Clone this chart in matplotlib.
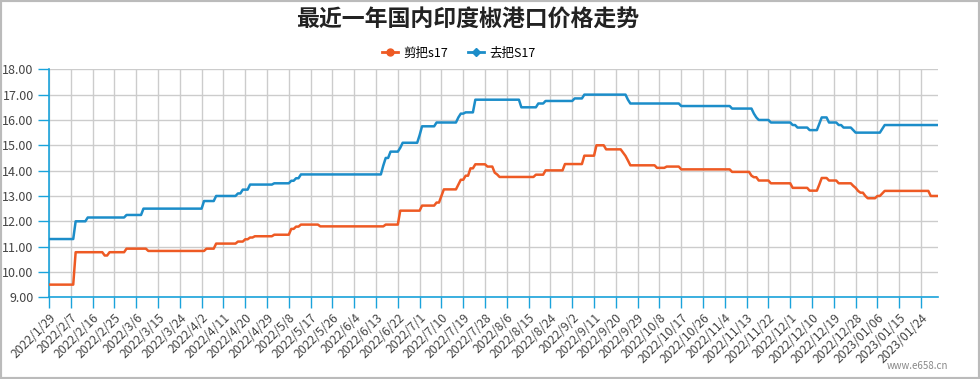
import numpy as np
import matplotlib
matplotlib.use("Agg")
import matplotlib.pyplot as plt
from matplotlib.patches import Rectangle
from matplotlib.lines import Line2D

plt.rcParams['font.family'] = ['Noto Sans CJK SC', 'DejaVu Sans']

title = "最近一年国内印度椒港口价格走势"
series_names = ["剪把s17", "去把S17"]
n_days = 368  # daily points 2022/1/29 .. 2023/1/31

tick_labels = ["2022/1/29", "2022/2/7", "2022/2/16", "2022/2/25", "2022/3/6", "2022/3/15",
               "2022/3/24", "2022/4/2", "2022/4/11", "2022/4/20", "2022/4/29", "2022/5/8",
               "2022/5/17", "2022/5/26", "2022/6/4", "2022/6/13", "2022/6/22", "2022/7/1",
               "2022/7/10", "2022/7/19", "2022/7/28", "2022/8/6", "2022/8/15", "2022/8/24",
               "2022/9/2", "2022/9/11", "2022/9/20", "2022/9/29", "2022/10/8", "2022/10/17",
               "2022/10/26", "2022/11/4", "2022/11/13", "2022/11/22", "2022/12/1", "2022/12/10",
               "2022/12/19", "2022/12/28", "2023/01/06", "2023/01/15", "2023/01/24"]

# step data: day index where a price level starts, and the level
orange_start = [0, 11, 23, 25, 32, 41, 65, 69, 78, 81, 83, 85, 93, 100, 102, 104, 112,
                139, 145, 154, 160, 162, 163, 169, 170, 172, 174, 176, 181, 184, 185, 186,
                201, 205, 213, 221, 226, 230, 237, 238, 239, 240, 251, 255, 261, 282, 290,
                291, 293, 298, 307, 314, 318, 319, 322, 326, 332, 333, 334, 335, 337, 338,
                342, 344, 345, 364]
orange_level = [9.5, 10.78, 10.65, 10.78, 10.92, 10.83, 10.92, 11.12, 11.2, 11.29, 11.36, 11.41,
                11.47, 11.7, 11.79, 11.87, 11.8, 11.87, 12.42, 12.62, 12.74, 13.0, 13.26,
                13.45, 13.64, 13.8, 14.09, 14.25, 14.16, 13.92, 13.85, 13.75, 13.84, 14.01,
                14.26, 14.59, 15.0, 14.84, 14.71, 14.58, 14.4, 14.21, 14.11, 14.16, 14.05,
                13.95, 13.8, 13.74, 13.61, 13.5, 13.32, 13.21, 13.45, 13.71, 13.61, 13.5,
                13.4, 13.32, 13.2, 13.13, 13.0, 12.91, 13.0, 13.1, 13.2, 13.0]

blue_start = [0, 11, 16, 32, 39, 64, 69, 78, 80, 83, 93, 100, 102, 104, 138, 139, 141, 145,
              146, 153, 154, 160, 169, 170, 172, 176, 195, 202, 205, 217, 221, 239, 240,
              261, 282, 291, 292, 293, 298, 307, 309, 314, 318, 319, 322, 326, 328, 332,
              333, 344, 345]
blue_level = [11.3, 12.0, 12.15, 12.25, 12.5, 12.8, 13.0, 13.1, 13.25, 13.45, 13.5, 13.6,
              13.7, 13.85, 14.2, 14.5, 14.75, 14.9, 15.1, 15.4, 15.75, 15.9, 16.1, 16.25,
              16.3, 16.8, 16.5, 16.65, 16.75, 16.85, 17.0, 16.8, 16.65, 16.55, 16.45, 16.25,
              16.1, 16.0, 15.9, 15.8, 15.7, 15.6, 15.85, 16.1, 15.9, 15.8, 15.7, 15.6, 15.5,
              15.65, 15.8]

colors = ["#EE5A24", "#1C8DC9"]


def expand(starts, levels, n):
    counts = np.diff(list(starts) + [n])
    return np.repeat(levels, counts)


orange = expand(orange_start, orange_level, n_days)
blue = expand(blue_start, blue_level, n_days)
days = np.arange(n_days)

fig = plt.figure(figsize=(9.8, 3.79), dpi=100)
ax = fig.add_axes([49 / 980, 1 - 297.3 / 379, (938 - 49) / 980, (297.3 - 69.3) / 379])

ax.plot(days, orange, color=colors[0], lw=1.8, solid_joinstyle='round', zorder=3)
ax.plot(days, blue, color=colors[1], lw=1.8, solid_joinstyle='round', zorder=3)

ax.set_xlim(0, n_days - 1)
ax.set_ylim(9, 18)
ax.set_yticks(np.arange(9, 18.01, 1))
ax.set_yticklabels([f"{v:.2f}" for v in np.arange(9, 18.01, 1)], fontsize=9, color="#444444")
tick_pos = np.arange(0, 9 * len(tick_labels), 9)
ax.set_xticks(tick_pos)
ax.set_xticklabels(tick_labels, rotation=45, ha='right', va='top', rotation_mode='anchor',
                   fontsize=8.8, color="#444444")
ax.tick_params(axis='x', length=8, width=1, color="#1AA3DB", pad=2)
ax.tick_params(axis='y', length=8, width=1, color="#1AA3DB", pad=3)

ax.grid(True, color="#CCCCCC", lw=1)
ax.set_axisbelow(True)
for s in ['top', 'right']:
    ax.spines[s].set_visible(False)
for s in ['left', 'bottom']:
    ax.spines[s].set_color("#1AA3DB")
    ax.spines[s].set_linewidth(1.2)

fig.text(0.477, 0.948, title, ha='center', va='center', fontsize=16.5, color="#222222",
         fontweight='semibold')

handles = [Line2D([0], [0], color=colors[0], lw=2, marker='o', markersize=5),
           Line2D([0], [0], color=colors[1], lw=2, marker='D', markersize=4)]
fig.legend(handles, series_names, loc='center', bbox_to_anchor=(0.468, 0.860), ncol=2,
           frameon=False, fontsize=9, handlelength=1.3, handletextpad=0.4,
           columnspacing=1.6)

fig.text(0.968, 0.022, "www.e658.cn", ha='right', va='bottom', fontsize=7, color="#888888")

fig.patches.append(Rectangle((0, 0), 1, 1, transform=fig.transFigure, fill=False,
                             edgecolor="#BBBBBB", lw=3, zorder=10))

fig.savefig("out.png", dpi=100)
